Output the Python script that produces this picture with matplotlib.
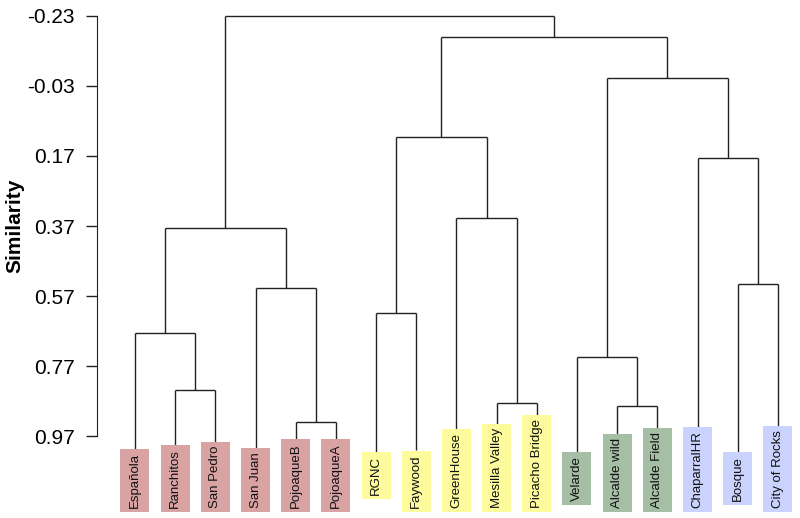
import matplotlib
matplotlib.use("Agg")
import matplotlib.pyplot as plt
from matplotlib.patches import Rectangle

plt.rcParams['font.family'] = ['Liberation Sans', 'DejaVu Sans']

# leaves in plotting order
leaves = ['Española', 'Ranchitos', 'San Pedro', 'San Juan', 'PojoaqueB', 'PojoaqueA',
          'RGNC', 'Faywood', 'GreenHouse', 'Mesilla Valley', 'Picacho Bridge',
          'Velarde', 'Alcalde wild', 'Alcalde Field', 'ChaparralHR', 'Bosque', 'City of Rocks']
groups = ['red'] * 6 + ['yellow'] * 5 + ['green'] * 3 + ['blue'] * 3
group_colors = {'red': '#d9a3a3', 'yellow': '#fdfb9c', 'green': '#a5bfa5', 'blue': '#c9d3fd'}

# merges: (left, right, similarity); ids >= 17 refer to earlier merges
merges = [
    (4, 5, 0.930),    # 17
    (12, 13, 0.884),  # 18
    (9, 10, 0.876),   # 19
    (1, 2, 0.839),    # 20
    (11, 18, 0.744),  # 21
    (0, 20, 0.676),   # 22
    (6, 7, 0.619),    # 23
    (3, 17, 0.547),   # 24
    (15, 16, 0.536),  # 25
    (8, 19, 0.347),   # 26
    (22, 24, 0.376),  # 27
    (23, 26, 0.116),  # 28
    (14, 25, 0.176),  # 29
    (21, 29, -0.053), # 30
    (28, 30, -0.170), # 31
    (27, 31, -0.230), # 32
]
yticks = [-0.23, -0.03, 0.17, 0.37, 0.57, 0.77, 0.97]

W, H = 800, 518
fig = plt.figure(figsize=(W / 100, H / 100), dpi=100)
ax = fig.add_axes([97 / W, 82 / H, 703 / W, 420 / H])
ax.set_xlim(-0.945, 16.55)
ax.set_ylim(0.97, -0.23)

line_kw = dict(color='#222222', lw=1.0, clip_on=False, solid_capstyle='butt')

n = len(leaves)
xpos = {i: float(i) for i in range(n)}
ypos = {}
parent_h = {}
for k, (a, b, h) in enumerate(merges):
    node = n + k
    xpos[node] = (xpos[a] + xpos[b]) / 2
    ypos[node] = h
    parent_h[a] = h
    parent_h[b] = h
    # horizontal bar
    ax.plot([xpos[a], xpos[b]], [h, h], **line_kw)
    # verticals for merged children
    for c in (a, b):
        if c >= n:
            ax.plot([xpos[c], xpos[c]], [ypos[c], h], **line_kw)

# leaf labels with coloured boxes
texts = []
for i, name in enumerate(leaves):
    xf = ax.transData.transform((i, 0))[0] / W
    t = fig.text(xf, 0.5, name, rotation=90, ha='center', va='top',
                 fontsize=9.5, color='#111111', zorder=5)
    texts.append(t)

fig.canvas.draw()
renderer = fig.canvas.get_renderer()
for i, t in enumerate(texts):
    L = t.get_window_extent(renderer).height
    # pixels from the top of the image
    top_px = min(452, 512 - (L + 8))
    bottom_px = top_px + L + 8
    t.set_y((H - (top_px + 4)) / H)
    xc = ax.transData.transform((i, 0))[0]
    fig.patches.append(Rectangle(((xc - 14.5) / W, (H - bottom_px) / H), 29 / W,
                                 (bottom_px - top_px) / H,
                                 transform=fig.transFigure, facecolor=group_colors[groups[i]],
                                 edgecolor='none', zorder=1))
    ytop = ax.transData.inverted().transform((xc, H - top_px))[1]
    ax.plot([i, i], [parent_h[i], ytop], **line_kw)

for s in ['top', 'right', 'bottom']:
    ax.spines[s].set_visible(False)
ax.spines['left'].set_color('#222222')
ax.set_xticks([])
ax.set_yticks(yticks)
ax.set_yticklabels([f'{v:.2f}' for v in yticks])
ax.tick_params(axis='y', length=8, width=1.0, pad=8, labelsize=15, color='#222222')
ax.set_ylabel('Similarity', fontsize=15, fontweight='bold', labelpad=2)

fig.savefig('out.png', dpi=100)
